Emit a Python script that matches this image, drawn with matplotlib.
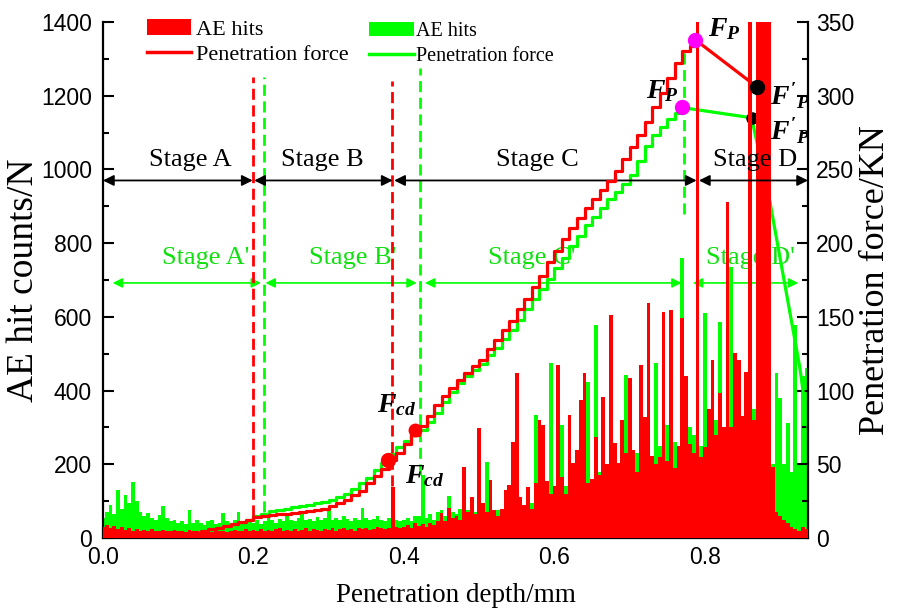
import numpy as np
import matplotlib.pyplot as plt
from matplotlib.patches import Patch
from matplotlib.lines import Line2D
from matplotlib.ticker import MultipleLocator

plt.rcParams['font.family'] = 'Liberation Serif'
plt.rcParams['mathtext.fontset'] = 'custom'
plt.rcParams['mathtext.it'] = 'Liberation Serif:italic:bold'
plt.rcParams['mathtext.rm'] = 'Liberation Serif:bold'

RED = '#ff0000'
GREEN = '#00ff00'
GREEN_TXT = '#10e010'

# AE hits, one value every 0.005 mm
bin_w = 0.005
red_hits = [30, 35, 28, 32, 25, 30, 22, 28, 20, 25,
            18, 22, 20, 24, 18, 20, 22, 18, 20, 22,
            18, 20, 16, 22, 18, 20, 15, 18, 20, 17,
            22, 18, 20, 16, 18, 22, 20, 18, 24, 20,
            22, 20, 25, 18, 22, 20, 24, 28, 20, 22,
            18, 25, 20, 22, 26, 20, 24, 22, 20, 25,
            22, 26, 20, 24, 28, 22, 25, 20, 26, 24,
            28, 22, 25, 30, 26, 24, 28, 138, 30, 26,
            30, 35, 28, 40, 32, 38, 30, 42, 36, 45,
            68, 45, 81, 55, 60, 50, 193, 70, 111, 65,
            298, 95, 70, 157, 76, 60, 80, 130, 144, 260,
            448, 111, 90, 138, 80, 149, 320, 306, 155, 120,
            140, 469, 166, 120, 334, 203, 239, 375, 448, 150,
            160, 274, 171, 383, 200, 605, 257, 203, 320, 230,
            434, 239, 180, 469, 328, 637, 222, 200, 220, 614,
            210, 618, 190, 250, 597, 440, 255, 230, 1500, 220,
            247, 350, 483, 280, 393, 300, 912, 302, 502, 483,
            330, 450, 1500, 320, 1500, 1500, 1500, 1500, 193, 70,
            60, 50, 40, 30, 25, 20, 30, 25]
green_hits = [55, 70, 90, 65, 130, 80, 117, 95, 152, 100,
              70, 60, 68, 55, 50, 62, 87, 55, 45, 50,
              40, 45, 38, 76, 42, 48, 40, 35, 45, 50,
              38, 42, 68, 45, 40, 50, 71, 45, 40, 48,
              42, 50, 38, 45, 55, 48, 40, 52, 45, 60,
              50, 45, 55, 70, 48, 52, 45, 58, 50, 55,
              81, 50, 55, 48, 60, 52, 45, 55, 50, 81,
              55, 48, 52, 60, 50, 45, 55, 48, 50, 45,
              50, 55, 45, 60, 60, 171, 55, 65, 50, 70,
              75, 60, 115, 70, 65, 80, 90, 75, 85, 70,
              80, 75, 206, 85, 70, 75, 80, 90, 75, 85,
              100, 90, 85, 110, 95, 334, 100, 120, 110, 474,
              130, 120, 307, 140, 130, 150, 160, 140, 170, 423,
              160, 578, 180, 170, 200, 190, 180, 200, 220, 442,
              210, 200, 230, 220, 328, 240, 220, 475, 250, 230,
              307, 240, 260, 250, 760, 350, 300, 280, 260, 250,
              610, 300, 280, 320, 586, 300, 320, 735, 350, 320,
              300, 350, 400, 350, 300, 280, 250, 220, 200, 448,
              380, 200, 311, 180, 578, 200, 440, 460]
hit_depth = np.arange(len(red_hits)) * bin_w

# penetration force (KN), staircase every 0.01 mm
red_force_depth = list(np.round(np.arange(0.10, 0.785, 0.01), 2)) + [0.787]
red_force = [1, 2, 3, 4.5, 6, 7, 8, 9.5, 11, 12.5,
             14, 15, 15.5, 16, 16.5, 17, 17.5, 18, 19, 20,
             21.5, 23.5, 26, 29, 32, 37, 42, 47, 53, 58,
             64, 70, 76, 83, 90, 96, 102, 107, 112, 117,
             121, 128, 134, 141, 147, 155, 162, 170, 178, 187,
             195, 203, 210, 217, 224, 230, 236, 242, 249, 257,
             265, 273, 282, 292, 302, 312, 322, 330, 334, 338]
green_force_depth = list(np.round(np.arange(0.12, 0.765, 0.01), 2)) + [0.769]
green_force = [1, 2, 3, 4.5, 6, 8, 10, 12.5, 15, 16.5,
               18, 19, 20, 21, 21.5, 22.5, 23.5, 24.5, 26, 28,
               30, 33, 37, 41, 46, 51, 57, 62, 66, 70,
               73, 79, 85, 92, 99, 105, 110, 114, 118, 124,
               129, 135, 141, 148, 155, 162, 169, 176, 183, 190,
               198, 205, 212, 218, 224, 230, 235, 240, 246, 256,
               266, 273, 279, 284, 288, 292]
# after the peak
red_post_depth = [0.787, 0.869]
red_post_force = [338, 306]
green_post_depth = [0.769, 0.862, 0.886, 0.926, 0.937]
green_post_force = [292, 285, 229, 116, 75]

# key points
red_fcd = (0.379, 53)
green_fcd = (0.415, 73)
red_fp = (0.787, 338)
green_fp = (0.769, 292)
red_fp2 = (0.869, 306)
green_fp2 = (0.862, 285)

# stages
black_edges = [(0.0, 0.199), (0.201, 0.385), (0.387, 0.789), (0.792, 0.937)]
black_names = ['Stage A', 'Stage B', 'Stage C', 'Stage D']
black_text_x = [0.116, 0.292, 0.577, 0.866]
green_edges = [(0.013, 0.21), (0.216, 0.417), (0.428, 0.769), (0.784, 0.924)]
green_names = ["Stage A'", "Stage B'", "Stage C'", "Stage D'"]
green_text_x = [0.136, 0.332, 0.570, 0.860]

red_dash_x = [0.2, 0.384]
red_dash_span = [(60, 1250), (140, 1240)]
green_dash_x = [0.214, 0.421, 0.772]
green_dash_span = [(70, 1250), (170, 1275), (880, 1330)]

fig = plt.figure(figsize=(9, 6.1), dpi=100)
ax = fig.add_axes([0.1144, 0.118, 0.7834, 0.846])
ax_g = ax.twinx()
ax_r = ax.twinx()
ax_top = ax.twinx()

ax.set_xlim(0, 0.937)
ax.set_ylim(0, 1400)
ax_r.set_ylim(0, 1400)
ax_g.set_ylim(0, 350)
ax_top.set_ylim(0, 350)

# green layer
ax.bar(hit_depth, green_hits, width=bin_w, color=GREEN, linewidth=0, zorder=2)
for x, (y0, y1) in zip(green_dash_x, green_dash_span):
    ax.plot([x, x], [y0, y1], color=GREEN, lw=2, ls=(0, (4, 2)), zorder=3)
for (a, b), name, tx in zip(green_edges, green_names, green_text_x):
    ax.annotate('', xy=(b, 692), xytext=(a, 692), annotation_clip=False,
                arrowprops=dict(arrowstyle='<|-|>', color=GREEN, lw=1.2,
                                mutation_scale=14, shrinkA=0, shrinkB=0), zorder=4)
    ax.text(tx, 760, name, ha='center', va='center', fontsize=19, color=GREEN_TXT, zorder=4)

ax_g.step(green_force_depth, green_force, where='post', color=GREEN, lw=2.3)
ax_g.plot(green_post_depth, green_post_force, color=GREEN, lw=2.3)
ax_g.plot(*green_fp, 'o', color='#ff00ff', ms=10)
ax_g.plot(*green_fp2, 'o', color='black', ms=8)

# red layer
ax_r.bar(hit_depth, red_hits, width=bin_w, color=RED, linewidth=0, zorder=2)
for x, (y0, y1) in zip(red_dash_x, red_dash_span):
    ax_r.plot([x, x], [y0, y1], color=RED, lw=2, ls=(0, (4, 2)), zorder=3)
for (a, b), name, tx in zip(black_edges, black_names, black_text_x):
    ax_r.annotate('', xy=(b, 970), xytext=(a, 970), annotation_clip=False,
                  arrowprops=dict(arrowstyle='<|-|>', color='black', lw=1.3,
                                  mutation_scale=16, shrinkA=0, shrinkB=0), zorder=4)
    ax_r.text(tx, 1025, name, ha='center', va='center', fontsize=19, color='black', zorder=4)

ax_top.step(red_force_depth, red_force, where='post', color=RED, lw=2.3)
ax_top.plot(red_post_depth, red_post_force, color=RED, lw=2.3)
ax_top.plot(*red_fcd, 'o', color=RED, ms=10)
ax_top.plot(*green_fcd, 'o', color=RED, ms=9)
ax_top.plot(*red_fp, 'o', color='#ff00ff', ms=10)
ax_top.plot(*red_fp2, 'o', color='black', ms=10)

ax_top.text(0.804, 345, r'$F_P$', fontsize=20, ha='left', va='center')
ax_top.text(0.722, 303, r'$F_P$', fontsize=20, ha='left', va='center')
ax_top.text(0.886, 300, r"$F'_P$", fontsize=20, ha='left', va='center')
ax_top.text(0.886, 276, r"$F'_P$", fontsize=20, ha='left', va='center')
ax_top.text(0.364, 90, r'$F_{cd}$', fontsize=20, ha='left', va='center')
ax_top.text(0.401, 42, r'$F_{cd}$', fontsize=20, ha='left', va='center')

leg1 = ax_top.legend([Patch(facecolor=RED), Line2D([], [], color=RED, lw=2.5)],
                     ['AE hits', 'Penetration force'], loc='upper left',
                     bbox_to_anchor=(0.062, 1.005), frameon=False, fontsize=16,
                     handlelength=2.0, handletextpad=0.2, labelspacing=0.2,
                     borderpad=0, borderaxespad=0)
ax_top.add_artist(leg1)
ax_top.legend([Patch(facecolor=GREEN), Line2D([], [], color=GREEN, lw=2.5)],
              ['AE hits', 'Penetration force'], loc='upper left',
              bbox_to_anchor=(0.378, 1.0), frameon=False, fontsize=14.5,
              handlelength=2.2, handletextpad=0.1, labelspacing=0.3,
              borderpad=0, borderaxespad=0)

# axes styling
for a in (ax_r, ax_top):
    a.axis('off')
ax.spines['top'].set_visible(False)
ax_g.spines['top'].set_visible(False)
ax.spines['right'].set_visible(False)
ax_g.spines['left'].set_visible(False)
ax_g.spines['bottom'].set_visible(False)
for a in (ax, ax_g):
    for s in a.spines.values():
        s.set_linewidth(1.6)

ax.xaxis.set_major_locator(MultipleLocator(0.2))
ax.xaxis.set_minor_locator(MultipleLocator(0.1))
ax.yaxis.set_major_locator(MultipleLocator(200))
ax.yaxis.set_minor_locator(MultipleLocator(100))
ax_g.yaxis.set_major_locator(MultipleLocator(50))
ax_g.yaxis.set_minor_locator(MultipleLocator(25))
ax.xaxis.set_major_formatter(plt.FormatStrFormatter('%.1f'))

for a in (ax, ax_g):
    a.tick_params(which='both', direction='in', width=1.5, labelsize=16.5,
                  labelfontfamily=['Liberation Sans Narrow', 'Liberation Sans'], top=False)
    a.tick_params(which='major', length=8)
    a.tick_params(which='minor', length=4)
ax.tick_params(axis='y', right=False, pad=8)
ax_g.tick_params(axis='y', pad=6)
ax.tick_params(axis='x', pad=6)

ax.set_xlabel('Penetration depth/mm', fontsize=19.5, labelpad=10)
ax.set_ylabel('AE hit counts/N', fontsize=27, labelpad=0)
ax_g.set_ylabel('Penetration force/KN', fontsize=26, labelpad=3)

fig.savefig('out.png', dpi=100)
